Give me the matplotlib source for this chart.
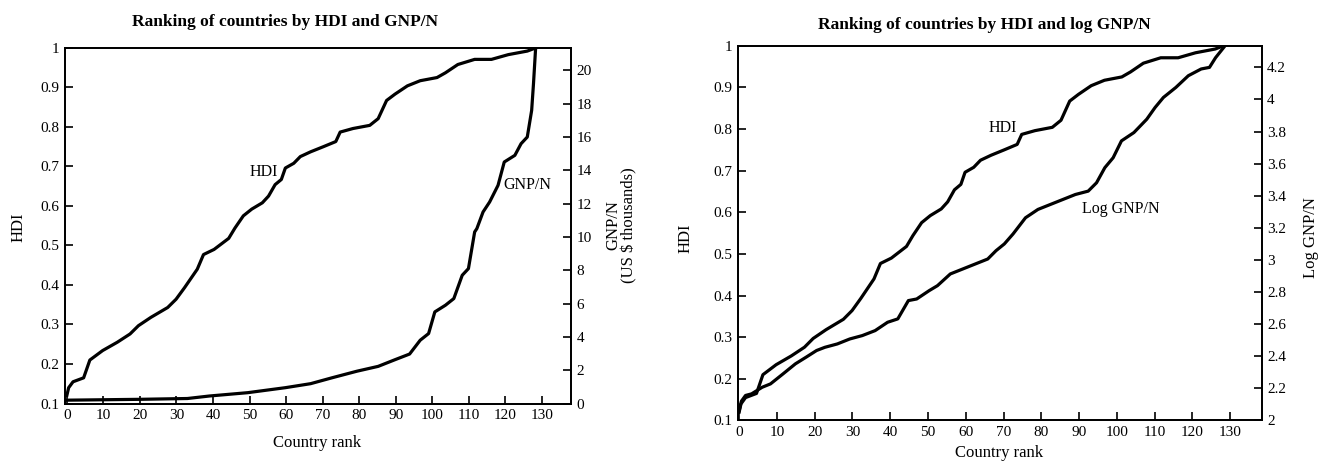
import numpy as np
import matplotlib.pyplot as plt
from matplotlib.ticker import FuncFormatter

plt.rcParams['font.family'] = ['Liberation Serif', 'DejaVu Serif']

# HDI ranking (left axis)
hdi_rank = [0, 0.5, 1.7, 4.6, 6.3, 9.8, 13.8, 17.3, 19.6, 23, 27.6, 29.9, 32.2,
            35.7, 37.4, 40.3, 44.3, 46, 48.3, 50.6, 53.5, 55.2, 57, 58.7, 59.8,
            62.1, 63.9, 66.7, 70.2, 73.6, 74.8, 78.3, 82.9, 85.2, 87.5, 89.8,
            93.2, 96.7, 101.3, 103.6, 107, 111.6, 116.2, 120.8, 126, 128.3]
hdi = [0.12, 0.14, 0.155, 0.165, 0.21, 0.234, 0.255, 0.276, 0.297, 0.318, 0.343,
       0.364, 0.393, 0.44, 0.477, 0.49, 0.518, 0.544, 0.575, 0.592, 0.608, 0.625,
       0.654, 0.667, 0.696, 0.708, 0.725, 0.737, 0.75, 0.763, 0.787, 0.796, 0.804,
       0.821, 0.867, 0.883, 0.904, 0.917, 0.925, 0.937, 0.958, 0.971, 0.971, 0.983,
       0.992, 1.0]

# GNP per head, US$ thousands (left panel, right axis)
gnp_rank = [0, 19.6, 33, 39, 49.5, 59.8, 66.7, 72.5, 79.4, 85.2, 89.8, 93.8, 96.7,
            99, 100.7, 103.6, 105.9, 108.2, 109.9, 111.6, 112.2, 113.9, 115.7, 118,
            119.7, 122.6, 124.3, 126, 127.2, 127.7, 128.3]
gnp = [0.2, 0.25, 0.3, 0.45, 0.65, 0.95, 1.19, 1.54, 1.94, 2.23, 2.63, 2.97, 3.8,
       4.2, 5.5, 5.9, 6.3, 7.7, 8.1, 10.3, 10.5, 11.5, 12.1, 13.1, 14.5, 14.9, 15.6,
       16.0, 17.6, 19.2, 21.4]

# log GNP per head (right panel, right axis)
lgnp_rank = [0, 0.6, 1.7, 3.3, 6.1, 8.3, 11.6, 14.9, 17.7, 20.5, 22.7, 26, 29.3,
             32.6, 36, 39.3, 42, 44.8, 47, 50.3, 52.5, 55.9, 59.2, 62.5, 65.8, 68,
             70.2, 72.5, 75.8, 79.1, 82.4, 85.7, 89, 92.4, 94.6, 96.8, 99, 101.2,
             104.5, 107.9, 110.1, 112.3, 115.6, 118.9, 122.3, 124.5, 126.1, 128.3]
lgnp = [2.06, 2.12, 2.156, 2.166, 2.207, 2.228, 2.29, 2.353, 2.394, 2.436, 2.456,
        2.477, 2.508, 2.529, 2.56, 2.612, 2.633, 2.747, 2.757, 2.809, 2.84, 2.913,
        2.944, 2.975, 3.006, 3.058, 3.1, 3.162, 3.263, 3.315, 3.346, 3.377, 3.408,
        3.429, 3.481, 3.575, 3.637, 3.742, 3.794, 3.877, 3.95, 4.0125, 4.075,
        4.148, 4.19, 4.2, 4.26, 4.325]

xticks = np.arange(0, 131, 10)
fmt = FuncFormatter(lambda v, p: f"{v:g}")

fig = plt.figure(figsize=(13.19, 4.63), dpi=100)


def style(ax):
    ax.tick_params(direction='in', length=6, width=1.2, labelsize=11, pad=4)
    for s in ax.spines.values():
        s.set_linewidth(1.3)


# ---- left panel
ax1 = fig.add_axes([0.049, 0.1285, 0.384, 0.768])
ax1.plot(hdi_rank, hdi, color='black', lw=2.3)
ax1.set_xlim(-0.6, 138)
ax1.set_ylim(0.1, 1.0)
ax1.set_xticks(xticks)
ax1.set_yticks(np.arange(0.1, 1.01, 0.1))
ax1.yaxis.set_major_formatter(fmt)
style(ax1)
ax1r = ax1.twinx()
ax1r.plot(gnp_rank, gnp, color='black', lw=2.3)
ax1r.set_ylim(0, 21.35)
ax1r.set_yticks(np.arange(0, 21, 2))
style(ax1r)
ax1.text(54, 0.686, 'HDI', fontsize=11.5, ha='center', va='center')
ax1.text(126, 0.653, 'GNP/N', fontsize=11.5, ha='center', va='center')

fig.text(285 / 1319, 1 - 22 / 463, 'Ranking of countries by HDI and GNP/N',
         fontsize=12.5, fontweight='bold', ha='center', va='center')
fig.text(317 / 1319, 1 - 443 / 463, 'Country rank', fontsize=12, ha='center', va='center')
fig.text(19 / 1319, 1 - 227 / 463, 'HDI', fontsize=12, rotation=90, ha='center', va='center')
fig.text(621 / 1319, 1 - 225 / 463, 'GNP/N\n(US $ thousands)', fontsize=12,
         rotation=90, ha='center', va='center', multialignment='center', linespacing=1.0)

# ---- right panel
ax2 = fig.add_axes([0.5595, 0.0918, 0.397, 0.8095])
ax2.plot(hdi_rank, hdi, color='black', lw=2.3)
ax2.set_xlim(-0.3, 138.3)
ax2.set_ylim(0.1, 1.0)
ax2.set_xticks(xticks)
ax2.set_yticks(np.arange(0.1, 1.01, 0.1))
ax2.yaxis.set_major_formatter(fmt)
style(ax2)
ax2r = ax2.twinx()
ax2r.plot(lgnp_rank, lgnp, color='black', lw=2.3)
ax2r.set_ylim(2, 4.335)
ax2r.set_yticks(np.arange(2, 4.21, 0.2))
ax2r.yaxis.set_major_formatter(fmt)
style(ax2r)
ax2.text(69.7, 0.802, 'HDI', fontsize=11.5, ha='center', va='center')
ax2.text(101, 0.608, 'Log GNP/N', fontsize=11.5, ha='center', va='center')

fig.text(984 / 1319, 1 - 25 / 463, 'Ranking of countries by HDI and log GNP/N',
         fontsize=12.5, fontweight='bold', ha='center', va='center')
fig.text(999 / 1319, 1 - 453 / 463, 'Country rank', fontsize=12, ha='center', va='center')
fig.text(686 / 1319, 1 - 238 / 463, 'HDI', fontsize=12, rotation=90, ha='center', va='center')
fig.text(1311 / 1319, 1 - 238 / 463, 'Log GNP/N', fontsize=12, rotation=90,
         ha='center', va='center')

fig.savefig('out.png', dpi=100)
